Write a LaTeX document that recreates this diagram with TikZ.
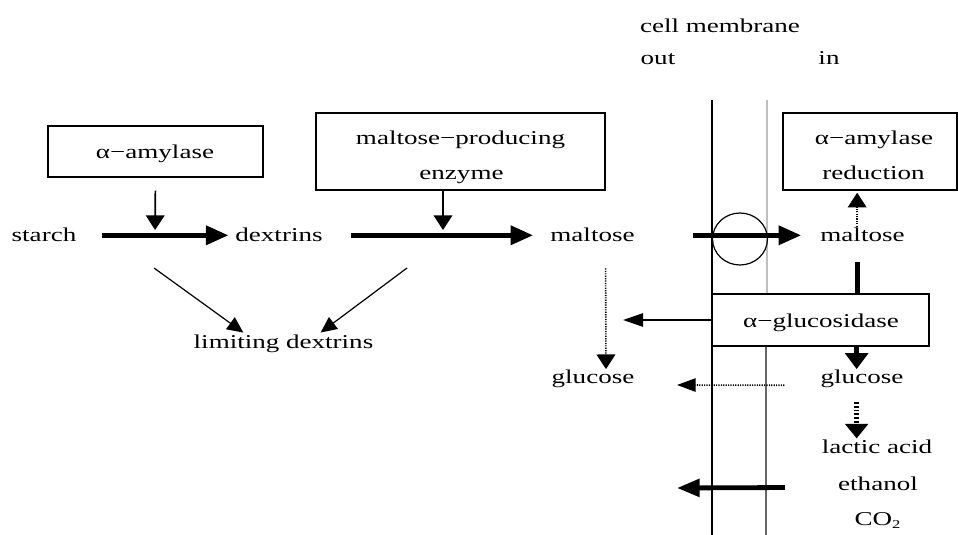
\documentclass[tikz,border=0pt]{standalone}
\usepackage{fontspec}
\setmainfont{Liberation Serif}[FakeStretch=1.38]
\usetikzlibrary{arrows.meta}
\begin{document}
\begin{tikzpicture}[x=0.75pt,y=-0.75pt,
  font=\fontsize{14.7}{17}\selectfont,
  txt/.style={inner sep=0pt, anchor=base},
  box/.style={draw, line width=1.1pt, inner sep=0pt, fill=white},
  thickarr/.style={line width=3.6pt, -{Triangle[length=17pt,width=14pt]}},
  thinarr/.style={line width=1.3pt, -{Triangle[length=11pt,width=14pt]}},
  slimarr/.style={line width=0.9pt, -{Triangle[length=12pt,width=11pt]}},
  dotarr/.style={line width=1.2pt, dash pattern=on 0.9pt off 0.9pt, -{Triangle[length=11pt,width=14pt]}},
  thickdot/.style={line width=3.6pt, dash pattern=on 1.4pt off 1.4pt, -{Triangle[length=11pt,width=17pt]}},
  thickline/.style={line width=3.6pt},
  membrane/.style={line width=1.1pt}
]
\useasboundingbox (0,0) rectangle (958,535);

% membrane lines
\draw[membrane] (712,100) -- (712,535);
\draw[line width=1.6pt, gray!50] (767,100) -- (767,294);
\draw[line width=1.2pt, gray!80!black] (766,346) -- (766,535);

% top labels
\node[txt] (cell) at (720,33) {cell membrane};
\node[txt] (out) at (658,65) {out};
\node[txt] (in) at (829,65) {in};

% boxes
\node[box, minimum width=215*0.75pt, minimum height=51*0.75pt] (amyA) at (155.5,151.5) {};
\node[txt] (amyAt) at (155,158) {α−amylase};
\node[box, minimum width=289*0.75pt, minimum height=77*0.75pt] (mpe) at (460.5,151.5) {};
\node[txt] (mpet1) at (460.5,145) {maltose−producing};
\node[txt] (mpet2) at (461.5,180) {enzyme};
\node[box, minimum width=174*0.75pt, minimum height=77*0.75pt] (amyR) at (870,151.5) {};
\node[txt] (amyRt1) at (874,145) {α−amylase};
\node[txt] (amyRt2) at (873.5,180) {reduction};

% main texts
\node[txt] (starch) at (44,242) {starch};
\node[txt] (dextrins) at (279,242) {dextrins};
\node[txt] (maltoseO) at (592.5,242) {maltose};
\node[txt] (maltoseI) at (862.5,242) {maltose};
\node[txt] (limit) at (283.5,348) {limiting dextrins};
\node[txt] (glucoseO) at (593,383) {glucose};
\node[txt] (glucoseI) at (862,383) {glucose};
\node[txt] (lactic) at (877,453) {lactic acid};
\node[txt] (ethanol) at (878,490) {ethanol};
\node[txt] (co2) at (877.5,525) {CO\raisebox{-0.35ex}{\fontsize{9}{10}\selectfont 2}};

% helper coordinates
\coordinate (j1) at (155,236);
\coordinate (j2) at (443,236);
\coordinate (l1) at (154,268);
\coordinate (l2) at (407,268);
\coordinate (gout) at (623,320);
\coordinate (c2) at (677,385);
\coordinate (c3) at (677,488);

% enzyme arrows
\draw[thinarr, shorten <=9.75pt, shorten >=4.5pt] (amyA.south) -- (j1);
\draw[thinarr, shorten >=4.5pt] (j2 |- mpe.south) -- (j2);

% main thick arrows
\draw[thickarr, shorten <=18.75pt, shorten >=5pt] (starch.east) -- (dextrins.west);
\draw[thickarr, shorten <=21pt, shorten >=12.75pt] (dextrins.east) -- (maltoseO.west);
\draw[thickarr, shorten <=43.5pt, shorten >=14.25pt] (maltoseO.east) -- (maltoseI.west);

% transporter
\draw[line width=0.9pt] (740,239) ellipse [x radius=20.6pt, y radius=19.5pt];

% limiting dextrins
\draw[slimarr, shorten >=2pt] (l1) -- ([xshift=-28.5pt]limit.north);
\draw[slimarr, shorten >=2pt] (l2) -- ([xshift=26.25pt]limit.north);

% inside
\draw[dotarr, shorten <=1pt, shorten >=1.5pt] ([xshift=-4pt]maltoseI.north) -- ([xshift=-4pt]maltoseI.north |- amyR.south);
\node[box, minimum width=217*0.75pt, minimum height=52*0.75pt] (gluc) at (820.5,320) {};
\node[txt] (gluct) at (821,327) {α−glucosidase};
\draw[thickline, shorten <=15pt] ([xshift=-4pt]maltoseI.south) -- ([xshift=-4pt]maltoseI.south |- gluc.north);
\draw[thickarr, -{Triangle[length=12pt,width=17pt]}] ([xshift=-4pt]glucoseI.north |- gluc.south) -- ([xshift=-4pt]glucoseI.north);
\draw[thinarr, -{Triangle[length=15pt,width=10pt]}] (gluc.west) -- (gout);

% outside glucose
\draw[dotarr, shorten <=19.5pt] ([xshift=9.75pt]maltoseO.south) -- ([xshift=9.75pt]glucoseO.north);
\draw[dotarr, -{Triangle[length=14pt,width=10pt]}, shorten <=27pt] ([yshift=-5.25pt]glucoseI.west) -- (c2);

% fermentation
\draw[thickdot, shorten <=11pt, shorten >=0.5pt] ([xshift=-4pt]glucoseI.south) -- ([xshift=-4pt]glucoseI.south |- lactic.north);
\draw[thickarr, -{Triangle[length=17pt,width=13pt]}, shorten <=39.75pt] ([yshift=-3pt]ethanol.west) -- (c3);
\end{tikzpicture}
\end{document}
